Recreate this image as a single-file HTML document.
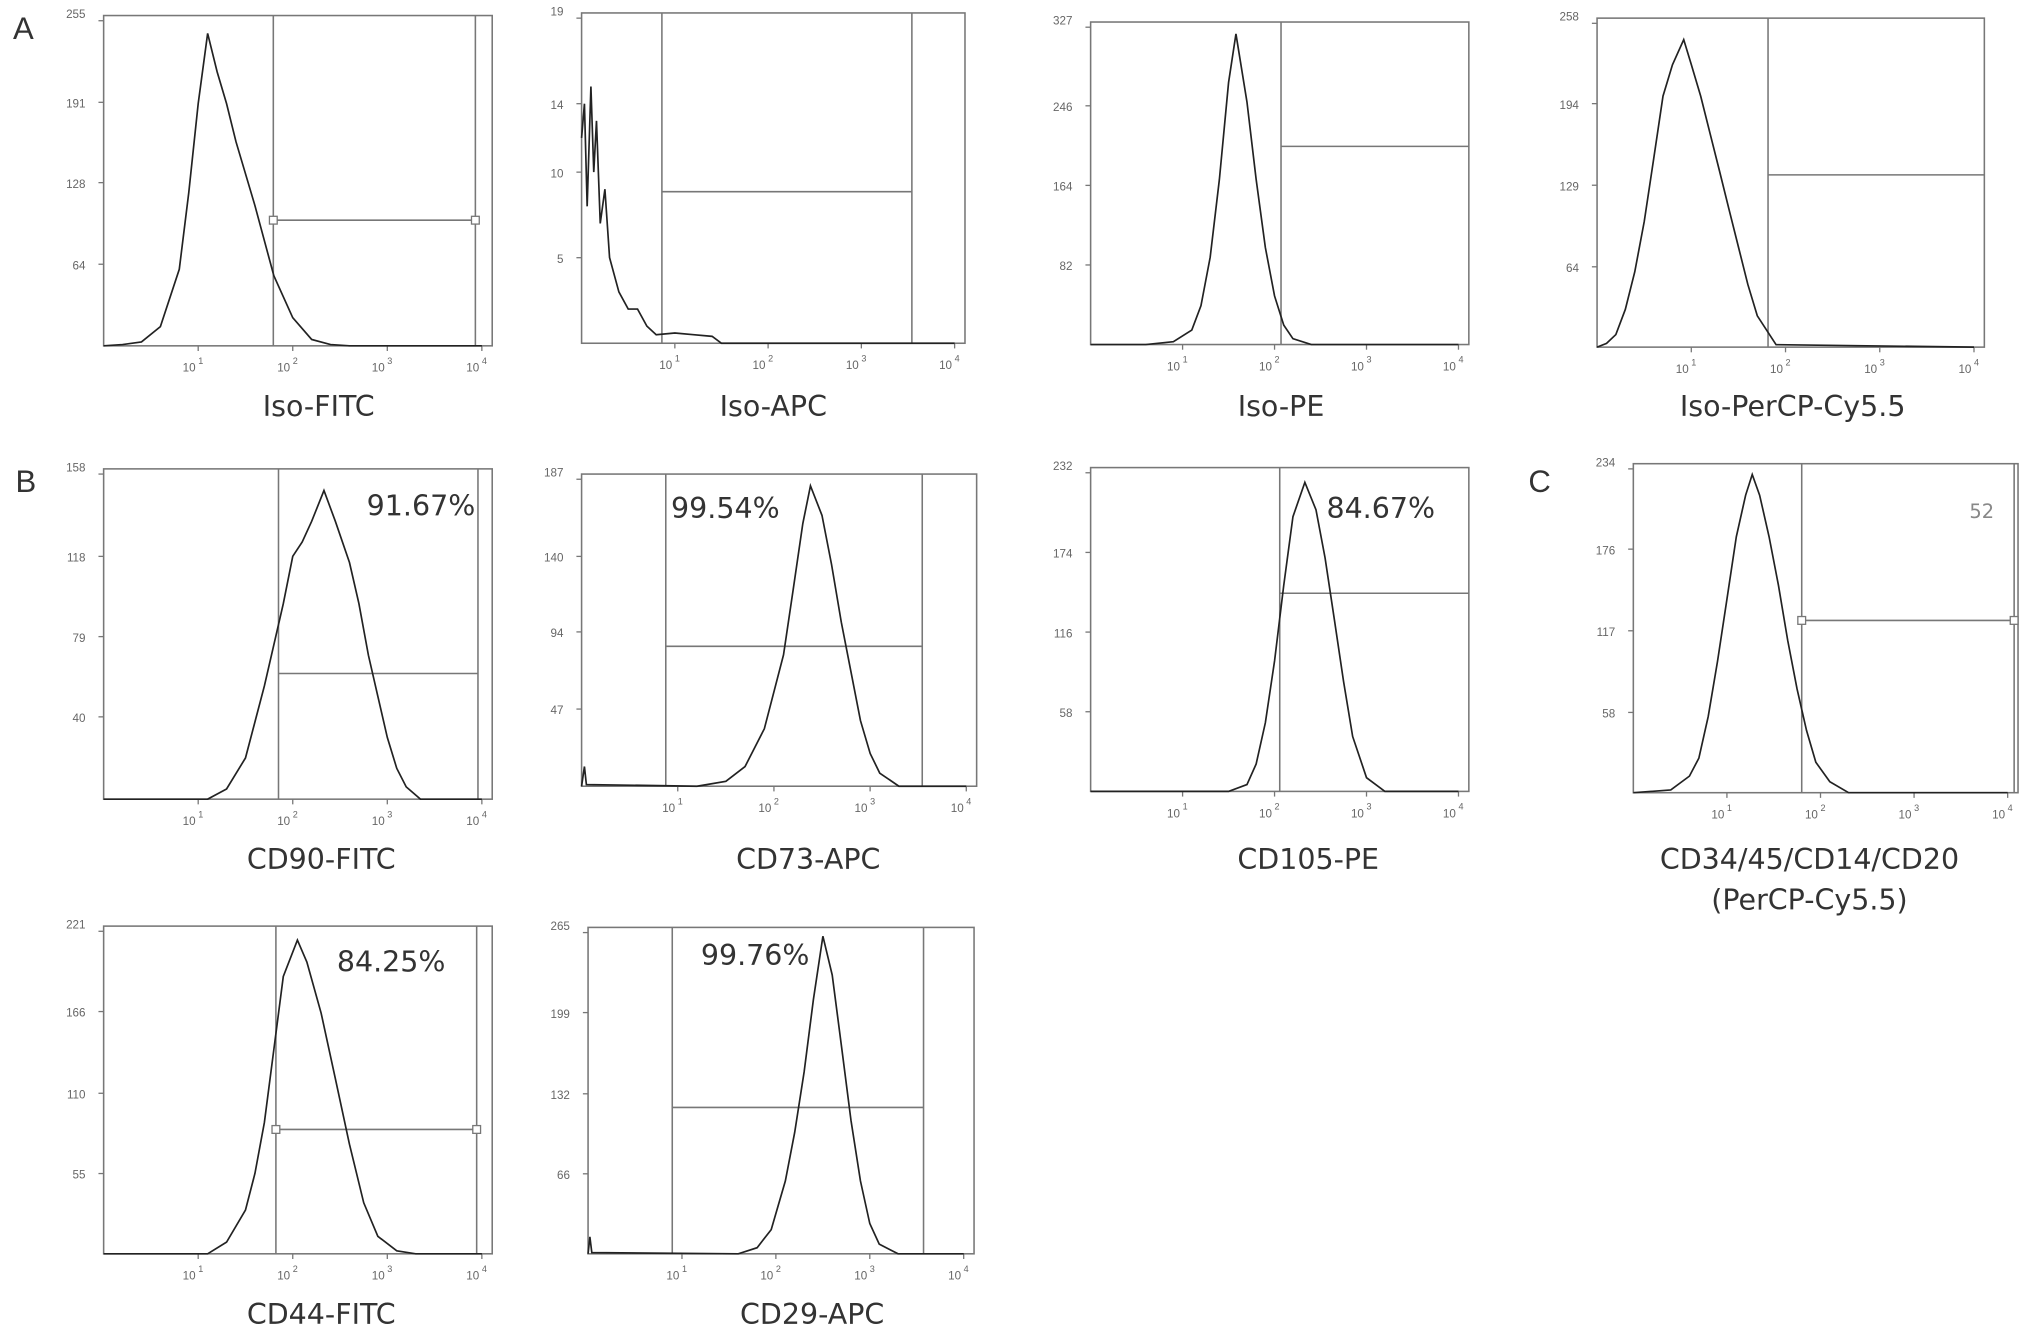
<!DOCTYPE html>
<html><head><meta charset="utf-8">
<style>
html,body{margin:0;padding:0;background:#fff;}
svg{display:block;}
.tick{font-family:"Liberation Sans",sans-serif;font-size:9px;fill:#666;}
.lab{font-family:"DejaVu Sans","Liberation Sans",sans-serif;font-size:22px;fill:#333;}
.pct{font-family:"DejaVu Sans","Liberation Sans",sans-serif;font-size:22px;fill:#333;}
.let{font-family:"Liberation Sans",sans-serif;font-size:24px;fill:#333;}
</style></head>
<body>
<svg id="fig" width="2031" height="1338" viewBox="0 0 1568 1033" xmlns="http://www.w3.org/2000/svg">
<text class="let" x="10" y="30">A</text>
<text class="let" x="12" y="380">B</text>
<text class="let" x="1180" y="380">C</text>
</svg>
<script>
// Histogram data: x in log10 units, y in counts
const xsIsoFITC=[0,0.2,0.4,0.6,0.8,0.9,1.0,1.1,1.2,1.3,1.4,1.6,1.8,2.0,2.2,2.4,2.6,4];
const ysIsoFITC=[0,1,3,15,60,120,190,245,215,190,160,110,55,22,5,1,0,0];
const xsIsoAPC=[0,0.03,0.06,0.1,0.13,0.16,0.2,0.25,0.3,0.4,0.5,0.6,0.7,0.8,1.0,1.2,1.4,1.5,4];
const ysIsoAPC=[12,14,8,15,10,13,7,9,5,3,2,2,1,0.5,0.6,0.5,0.4,0,0];
const xsIsoPE=[0,0.6,0.9,1.1,1.2,1.3,1.4,1.5,1.58,1.7,1.8,1.9,2.0,2.1,2.2,2.4,4];
const ysIsoPE=[0,0,3,15,40,90,170,270,320,250,170,100,50,20,6,0,0];
const xsIsoPerCP=[0,0.1,0.2,0.3,0.4,0.5,0.6,0.7,0.8,0.92,1.0,1.1,1.2,1.3,1.4,1.5,1.6,1.7,1.9,4];
const ysIsoPerCP=[0,3,10,30,60,100,150,200,225,245,225,200,170,140,110,80,50,25,2,0];
const xsCD90=[0,1.1,1.3,1.5,1.7,1.9,2.0,2.1,2.2,2.33,2.45,2.6,2.7,2.8,2.9,3.0,3.1,3.2,3.35,4];
const ysCD90=[0,0,5,20,55,95,118,125,135,150,135,115,95,70,50,30,15,6,0,0];
const xsCD73=[0,0.03,0.05,1.2,1.5,1.7,1.9,2.1,2.2,2.3,2.38,2.5,2.6,2.7,2.8,2.9,3.0,3.1,3.3,4];
const ysCD73=[0,12,1,0,3,12,35,80,120,160,183,165,135,100,70,40,20,8,0,0];
const xsCD105=[0,1.5,1.7,1.8,1.9,2.0,2.1,2.2,2.33,2.45,2.55,2.65,2.75,2.85,3.0,3.2,4];
const ysCD105=[0,0,5,20,50,95,150,200,225,205,170,125,80,40,10,0,0];
const xsCD34=[0,0.4,0.6,0.7,0.8,0.9,1.0,1.1,1.2,1.27,1.35,1.45,1.55,1.65,1.75,1.85,1.95,2.1,2.3,4];
const ysCD34=[0,2,12,25,55,95,140,185,215,230,215,185,150,110,75,45,22,8,0,0];
const xsCD44=[0,1.1,1.3,1.5,1.6,1.7,1.8,1.9,2.05,2.15,2.3,2.45,2.6,2.75,2.9,3.1,3.3,4];
const ysCD44=[0,0,8,30,55,90,140,190,215,200,165,120,75,35,12,2,0,0];
const xsCD29=[0,0.02,0.04,1.6,1.8,1.95,2.1,2.2,2.3,2.4,2.5,2.6,2.7,2.8,2.9,3.0,3.1,3.3,4];
const ysCD29=[0,14,1,0,5,20,60,100,150,210,262,230,170,110,60,25,8,0,0];

const yTicksIsoFITC=[64,128,191,255], yTicksIsoAPC=[5,10,14,19], yTicksIsoPE=[82,164,246,327], yTicksIsoPerCP=[64,129,194,258];
const yTicksCD90=[40,79,118,158], yTicksCD73=[47,94,140,187], yTicksCD105=[58,116,174,232], yTicksCD34=[58,117,176,234];
const yTicksCD44=[55,110,166,221], yTicksCD29=[66,132,199,265];
const xTickLabels=["1","2","3","4"];

const NS="http://www.w3.org/2000/svg";
const svg=document.getElementById('fig');
function el(tag,attrs,parent){const e=document.createElementNS(NS,tag);for(const k in attrs)e.setAttribute(k,attrs[k]);(parent||svg).appendChild(e);return e;}

const panels=[
 {id:'iso-fitc',x0:80,x1:380,y0:12,y1:267,xs:xsIsoFITC,ys:ysIsoFITC,ticks:yTicksIsoFITC,ymax:255,vl:[211,367],hl:{y:170,a:211,b:367,sq:true},lab:['Iso-FITC'],lx:246,ly:321},
 {id:'iso-apc',x0:449,x1:745,y0:10,y1:265,xs:xsIsoAPC,ys:ysIsoAPC,ticks:yTicksIsoAPC,ymax:19,vl:[511,704],hl:{y:148,a:511,b:704},lab:['Iso-APC'],lx:597,ly:321},
 {id:'iso-pe',x0:842,x1:1134,y0:17,y1:266,xs:xsIsoPE,ys:ysIsoPE,ticks:yTicksIsoPE,ymax:327,vl:[989],hl:{y:113,a:989,b:1134},lab:['Iso-PE'],lx:989,ly:321},
 {id:'iso-percp',x0:1233,x1:1532,y0:14,y1:268,xs:xsIsoPerCP,ys:ysIsoPerCP,ticks:yTicksIsoPerCP,ymax:258,vl:[1365],hl:{y:135,a:1365,b:1532},lab:['Iso-PerCP-Cy5.5'],lx:1384,ly:321},
 {id:'cd90',x0:80,x1:380,y0:362,y1:617,xs:xsCD90,ys:ysCD90,ticks:yTicksCD90,ymax:158,vl:[215,369],hl:{y:520,a:215,b:369},lab:['CD90-FITC'],lx:248,ly:671,pct:'91.67%',px:325,py:398},
 {id:'cd73',x0:449,x1:754,y0:366,y1:607,xs:xsCD73,ys:ysCD73,ticks:yTicksCD73,ymax:187,vl:[514,712],hl:{y:499,a:514,b:712},lab:['CD73-APC'],lx:624,ly:671,pct:'99.54%',px:560,py:400},
 {id:'cd105',x0:842,x1:1134,y0:361,y1:611,xs:xsCD105,ys:ysCD105,ticks:yTicksCD105,ymax:232,vl:[988],hl:{y:458,a:988,b:1134},lab:['CD105-PE'],lx:1010,ly:671,pct:'84.67%',px:1066,py:400},
 {id:'cd34',x0:1261,x1:1558,y0:358,y1:612,xs:xsCD34,ys:ysCD34,ticks:yTicksCD34,ymax:234,vl:[1391,1555],hl:{y:479,a:1391,b:1555,sq:true},lab:['CD34/45/CD14/CD20','(PerCP-Cy5.5)'],lx:1397,ly:671,pct:'52',px:1530,py:400,small:true},
 {id:'cd44',x0:80,x1:380,y0:715,y1:968,xs:xsCD44,ys:ysCD44,ticks:yTicksCD44,ymax:221,vl:[213,368],hl:{y:872,a:213,b:368,sq:true},lab:['CD44-FITC'],lx:248,ly:1022,pct:'84.25%',px:302,py:750},
 {id:'cd29',x0:454,x1:752,y0:716,y1:968,xs:xsCD29,ys:ysCD29,ticks:yTicksCD29,ymax:265,vl:[519,713],hl:{y:855,a:519,b:713},lab:['CD29-APC'],lx:627,ly:1022,pct:'99.76%',px:583,py:745}
];

panels.forEach(p=>{
  const g=el('g',{});
  
  
  const w=p.x1-p.x0, h=p.y1-p.y0;
  const sx=v=>p.x0+v*(w-8)/4;
  const sy=v=>p.y1-v/p.ymax*(h-4);
  const fr=el('rect',{x:p.x0,y:p.y0,width:w,height:h,fill:'none',stroke:'#777','stroke-width':1.2},g);
  
  
  p.ticks.forEach(t=>{
    const y=sy(t);
    el('line',{x1:p.x0-4,x2:p.x0,y1:y,y2:y,stroke:'#777'},g);
    const tx=el('text',{x:p.x0-14,y:y+(t===p.ticks[p.ticks.length-1]?-2:4),'text-anchor':'end',class:'tick'},g);
    tx.textContent=t;
    
    
  });
  xTickLabels.forEach((d,i)=>{
    const x=sx(i+1);
    el('line',{x1:x,x2:x,y1:p.y1,y2:p.y1+4,stroke:'#777'},g);
    const tx=el('text',{x:x-2,y:p.y1+20,'text-anchor':'end',class:'tick'},g);
    tx.textContent='10';
    
    
    const sup=el('text',{x:x,y:p.y1+14,class:'tick',style:'font-size:7px'},g);
    sup.textContent=d;
    
    
  });
  p.vl.forEach(x=>{
    const l=el('line',{x1:x,x2:x,y1:p.y0,y2:p.y1,stroke:'#777','stroke-width':1.2},g);
    
    
  });
  const hl=el('line',{x1:p.hl.a,x2:p.hl.b,y1:p.hl.y,y2:p.hl.y,stroke:'#777','stroke-width':1.2},g);
  
  
  if(p.hl.sq){[p.hl.a,p.hl.b].forEach(x=>el('rect',{x:x-3,y:p.hl.y-3,width:6,height:6,fill:'#fff',stroke:'#777'},g));}
  const pts=p.xs.map((v,i)=>sx(v).toFixed(1)+','+sy(p.ys[i]).toFixed(1)).join(' ');
  const pl=el('polyline',{points:pts,fill:'none',stroke:'#222','stroke-width':1.3},g);
  
  
  p.lab.forEach((s,i)=>{
    const t=el('text',{x:p.lx,y:p.ly+i*31,'text-anchor':'middle',class:'lab'},g);
    t.textContent=s;
    
    
  });
  if(p.pct){
    const t=el('text',{x:p.px,y:p.py,'text-anchor':'middle',class:'pct'},g);
    if(p.small){t.setAttribute('style','font-size:15px;fill:#888');}
    t.textContent=p.pct;
    
    
  }
});
</script>
</body></html>
